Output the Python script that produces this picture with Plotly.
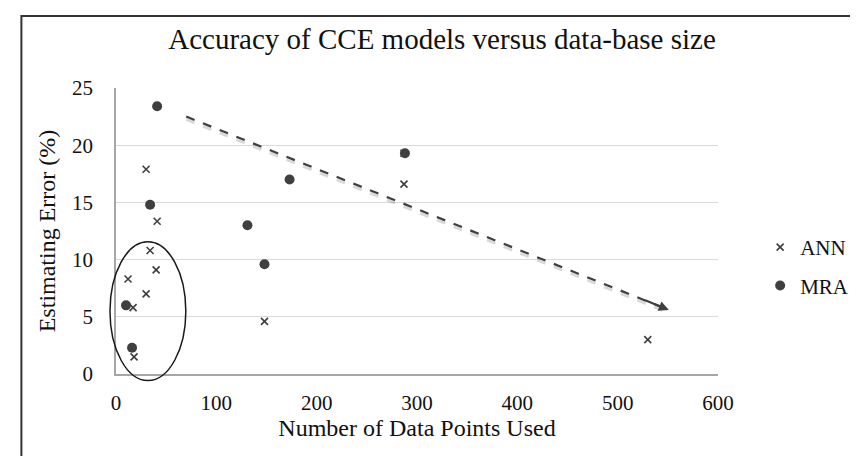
import plotly.graph_objects as go

# data
ann_x = [12, 17, 18, 30, 30, 34, 40, 41, 148, 287, 287, 530]
ann_y = [8.3, 5.8, 1.5, 17.9, 7.0, 10.8, 9.1, 13.35, 4.6, 16.6, 19.3, 3.0]

mra_x = [10, 16, 34, 41, 131, 148, 173, 288]
mra_y = [6.0, 2.3, 14.8, 23.4, 13.0, 9.6, 17.0, 19.3]

# trend arrow (start, end) in data units
trend_x = [70, 551]
trend_y = [22.5, 5.6]

x_ticks = [0, 100, 200, 300, 400, 500, 600]
y_ticks = [0, 5, 10, 15, 20, 25]

FONT = "Liberation Serif, Times New Roman, serif"
INK = "#3f3f3f"
TXT = "#111111"

fig = go.Figure()
fig.add_trace(go.Scatter(
    x=ann_x, y=ann_y, mode="markers", name="ANN", legendgroup="ann",
    marker=dict(symbol="x-thin", size=7, line=dict(width=1.6, color=INK), color=INK),
))
fig.add_trace(go.Scatter(
    x=mra_x, y=mra_y, mode="markers", name="MRA", legendgroup="mra",
    marker=dict(symbol="circle", size=10, color=INK),
))

# dashed trend line with a soft shadow
fig.add_shape(type="line", xref="x", yref="y",
              x0=trend_x[0], y0=trend_y[0] - 0.25, x1=trend_x[1], y1=trend_y[1] - 0.25,
              line=dict(color="rgba(0,0,0,0.15)", width=3, dash="dash"))
fig.add_shape(type="line", xref="x", yref="y",
              x0=trend_x[0], y0=trend_y[0], x1=trend_x[1], y1=trend_y[1],
              line=dict(color=INK, width=2.2, dash="dash"))
fig.add_annotation(x=trend_x[1], y=trend_y[1], ax=trend_x[1] - 25, ay=trend_y[1] + 0.9,
                   xref="x", yref="y", axref="x", ayref="y", text="",
                   showarrow=True, arrowhead=2, arrowsize=1, arrowwidth=2, arrowcolor=INK)

# ellipse around the small data sets
fig.add_shape(type="circle", xref="paper", yref="paper",
              x0=-0.010, x1=0.116, y0=-0.023, y1=0.462,
              line=dict(color="#1a1a1a", width=1.5))

# outer border of the chart
fig.add_shape(type="rect", xref="paper", yref="paper",
              x0=-99 / 630, x1=1.3, y0=-0.5, y1=(366 - 8) / 286,
              line=dict(color="#333333", width=2))

fig.update_layout(
    width=858, height=456,
    margin=dict(l=108, r=120, t=80, b=90),
    paper_bgcolor="white", plot_bgcolor="white",
    font=dict(family=FONT, size=20, color=TXT),
    title=dict(text="Accuracy of CCE models versus data-base size",
               x=434 / 858, xanchor="center", y=1 - 31 / 456, yanchor="middle",
               font=dict(family=FONT, size=29, color=TXT)),
    legend=dict(x=1.07, y=0.376, xanchor="left", yanchor="middle",
                font=dict(family=FONT, size=21, color=TXT), tracegroupgap=8,
                itemwidth=30, bgcolor="rgba(0,0,0,0)"),
    showlegend=True,
)
fig.update_xaxes(range=[0, 600], tickvals=x_ticks, showgrid=False, zeroline=False,
                 showline=True, linecolor="#a6a6a6", linewidth=1.5,
                 ticks="", ticklabelstandoff=9,
                 tickfont=dict(family=FONT, size=21, color=TXT),
                 title=dict(text="Number of Data Points Used", standoff=5,
                            font=dict(family=FONT, size=24, color=TXT)))
fig.update_yaxes(range=[0, 25], tickvals=y_ticks, showgrid=True, gridcolor="#d9d9d9",
                 gridwidth=1, zeroline=False, showline=True, linecolor="#a6a6a6",
                 linewidth=1.5, ticks="", ticklabelstandoff=17,
                 tickfont=dict(family=FONT, size=21, color=TXT),
                 title=dict(text="Estimating Error (%)", standoff=10,
                            font=dict(family=FONT, size=24, color=TXT)))

fig.write_html("out.html")
